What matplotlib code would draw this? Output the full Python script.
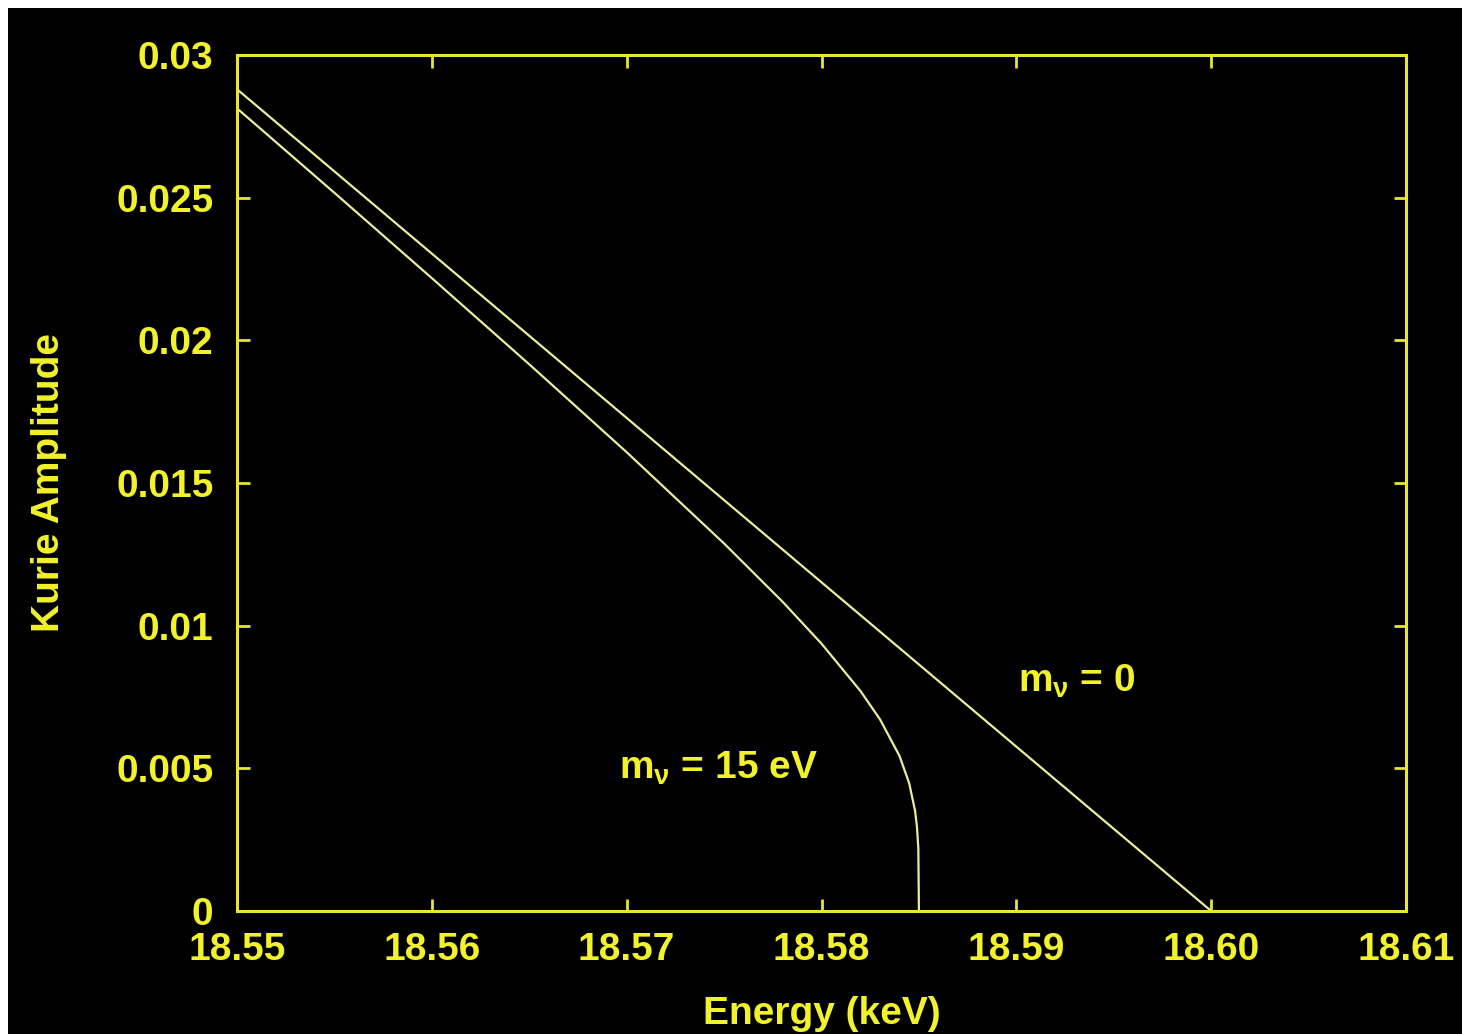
import matplotlib
matplotlib.use("Agg")
import matplotlib.pyplot as plt
from matplotlib.patches import Rectangle

plt.rcParams['font.family'] = ['Liberation Sans', 'DejaVu Sans']
plt.rcParams['font.weight'] = 'bold'
plt.rcParams['axes.labelweight'] = 'bold'
plt.rcParams['mathtext.fontset'] = 'custom'
plt.rcParams['mathtext.rm'] = 'Liberation Sans:bold'
plt.rcParams['mathtext.it'] = 'Liberation Sans:bold'
plt.rcParams['mathtext.bf'] = 'Liberation Sans:bold'
plt.rcParams['mathtext.default'] = 'rm'

# Kurie plot near the tritium endpoint
energy_massless = [18.55, 18.60]
kurie_massless = [0.0288, 0.0]

energy_massive = [18.55, 18.555, 18.56, 18.565, 18.57, 18.575, 18.578, 18.58,
                  18.582, 18.583, 18.584, 18.5845, 18.5848, 18.5849, 18.58497, 18.585]
kurie_massive = [0.02813, 0.02517, 0.02218, 0.01916, 0.01608, 0.01288, 0.01084, 0.00937,
                 0.00771, 0.00672, 0.00544, 0.00448, 0.00352, 0.00295, 0.0022, 0.0]

x_ticks = [18.55, 18.56, 18.57, 18.58, 18.59, 18.60, 18.61]
x_tick_labels = ["18.55", "18.56", "18.57", "18.58", "18.59", "18.60", "18.61"]
y_ticks = [0, 0.005, 0.01, 0.015, 0.02, 0.025, 0.03]
y_tick_labels = ["0", "0.005", "0.01", "0.015", "0.02", "0.025", "0.03"]

text_color = '#f2f22a'
frame_color = '#e6e634'
curve_color = '#ecec9c'
fs = 28

fig = plt.figure(figsize=(14.62, 10.34), dpi=100, facecolor='white')
fig.patches.append(Rectangle((8 / 1462, 0), 1, 1 - 8 / 1034, transform=fig.transFigure,
                             facecolor='black', edgecolor='none', zorder=-10))

ax = fig.add_axes([237 / 1462, 1 - 911 / 1034, (1406 - 237) / 1462, (911 - 55) / 1034])
ax.set_facecolor('black')

ax.plot(energy_massless, kurie_massless, color=curve_color, lw=1.6)
ax.plot(energy_massive, kurie_massive, color=curve_color, lw=1.6)

ax.set_xlim(18.55, 18.61)
ax.set_ylim(0, 0.03)
ax.set_xticks(x_ticks)
ax.set_xticklabels(x_tick_labels)
ax.set_yticks(y_ticks)
ax.set_yticklabels(y_tick_labels)

for s in ax.spines.values():
    s.set_color(frame_color)
    s.set_linewidth(2.2)

ax.tick_params(axis='both', which='both', direction='in', length=9, width=2,
               color=frame_color, labelcolor=text_color, labelsize=fs,
               top=True, right=True)
ax.tick_params(axis='x', pad=15)
ax.tick_params(axis='y', pad=17)

ax.set_xlabel("Energy (keV)", color=text_color, fontsize=fs, labelpad=20)
ax.set_ylabel("Kurie Amplitude", color=text_color, fontsize=fs, labelpad=35)

ax.text(18.5901, 0.00768, r"m$_\nu$ = 0", color=text_color, fontsize=fs,
        va='baseline', ha='left')
ax.text(18.5696, 0.00463, r"m$_\nu$ = 15 eV", color=text_color, fontsize=fs,
        va='baseline', ha='left')

fig.savefig("out.png", dpi=100, facecolor=fig.get_facecolor())
